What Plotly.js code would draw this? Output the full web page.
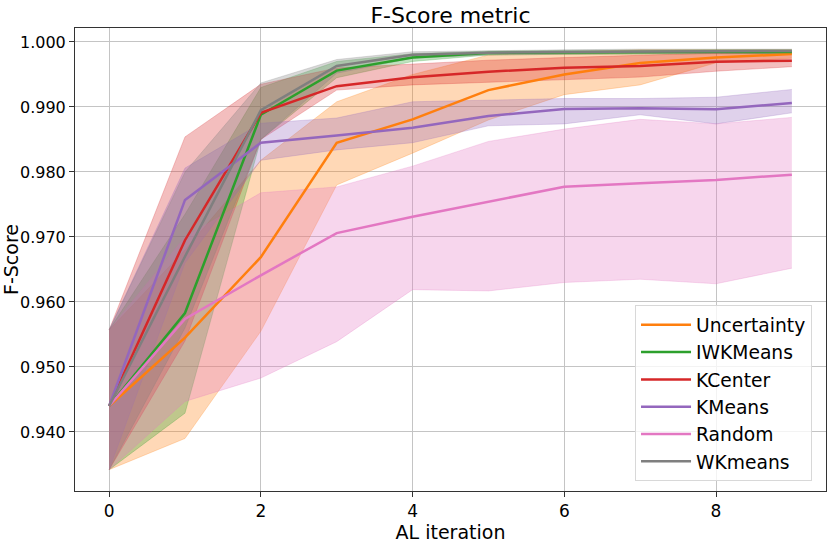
<!DOCTYPE html>
<html>
<head>
<meta charset="utf-8">
<script src="https://cdn.plot.ly/plotly-3.0.1.min.js"></script>
<style>html,body{margin:0;padding:0;background:#fff;}#chart{width:830px;height:543px;}</style>
</head>
<body>
<div id="chart"></div>
<script>
var iterations = [0, 1, 2, 3, 4, 5, 6, 7, 8, 9];

var uncertaintyMean  = [0.9440, 0.9545, 0.9669, 0.9845, 0.9881, 0.9926, 0.9950, 0.99675, 0.9976, 0.99815];
var uncertaintyUpper = [0.9557, 0.9680, 0.9818, 0.9908, 0.9950, 0.9980, 0.9985, 0.9988, 0.9988, 0.9988];
var uncertaintyLower = [0.9342, 0.9390, 0.9555, 0.9780, 0.9829, 0.9880, 0.9919, 0.9934, 0.9968, 0.9975];

var iwkmeansMean  = [0.9440, 0.9583, 0.9888, 0.9956, 0.9976, 0.9983, 0.9984, 0.9985, 0.9985, 0.99846];
var iwkmeansUpper = [0.9557, 0.9735, 0.9930, 0.9970, 0.9982, 0.9986, 0.9987, 0.9988, 0.9988, 0.9988];
var iwkmeansLower = [0.9342, 0.9429, 0.9850, 0.9945, 0.9970, 0.9980, 0.9981, 0.9982, 0.9982, 0.9982];

var kcenterMean  = [0.9440, 0.9695, 0.9891, 0.9932, 0.99457, 0.99543, 0.99605, 0.9963, 0.99697, 0.99713];
var kcenterUpper = [0.9557, 0.9854, 0.9935, 0.9960, 0.9966, 0.9972, 0.9976, 0.9980, 0.9983, 0.9984];
var kcenterLower = [0.9342, 0.9540, 0.9850, 0.9926, 0.9934, 0.9938, 0.9943, 0.9946, 0.9955, 0.9962];

var kmeansMean  = [0.9440, 0.9757, 0.9845, 0.9856, 0.98682, 0.98862, 0.98969, 0.9898, 0.98965, 0.99062];
var kmeansUpper = [0.9557, 0.9806, 0.9875, 0.9883, 0.9908, 0.9911, 0.9913, 0.9913, 0.9915, 0.9927];
var kmeansLower = [0.9342, 0.9660, 0.9818, 0.9834, 0.9845, 0.9871, 0.9874, 0.9888, 0.9874, 0.9891];

var randomMean  = [0.9440, 0.9574, 0.9641, 0.9706, 0.9731, 0.97543, 0.97774, 0.97826, 0.97877, 0.97959];
var randomUpper = [0.9557, 0.9700, 0.9768, 0.9777, 0.9809, 0.9847, 0.9866, 0.9881, 0.9874, 0.9884];
var randomLower = [0.9342, 0.9447, 0.9483, 0.9539, 0.9619, 0.9617, 0.9630, 0.9635, 0.9628, 0.9652];

var wkmeansMean  = [0.9440, 0.9670, 0.9895, 0.9963, 0.99805, 0.99836, 0.99846, 0.9985, 0.9986, 0.99862];
var wkmeansUpper = [0.9557, 0.9800, 0.9937, 0.9973, 0.9985, 0.9987, 0.9988, 0.9989, 0.9989, 0.9989];
var wkmeansLower = [0.9342, 0.9560, 0.9850, 0.9952, 0.9975, 0.9980, 0.9981, 0.9982, 0.9983, 0.9983];

var yTicks = [0.94, 0.95, 0.96, 0.97, 0.98, 0.99, 1.00];
var xTicks = [0, 2, 4, 6, 8];

var series = [
  {name: 'Uncertainty', mean: uncertaintyMean, upper: uncertaintyUpper, lower: uncertaintyLower, rgb: [255, 127, 14]},
  {name: 'IWKMeans', mean: iwkmeansMean, upper: iwkmeansUpper, lower: iwkmeansLower, rgb: [44, 160, 44]},
  {name: 'KCenter', mean: kcenterMean, upper: kcenterUpper, lower: kcenterLower, rgb: [214, 39, 40]},
  {name: 'KMeans', mean: kmeansMean, upper: kmeansUpper, lower: kmeansLower, rgb: [148, 103, 189]},
  {name: 'Random', mean: randomMean, upper: randomUpper, lower: randomLower, rgb: [227, 119, 194]},
  {name: 'WKmeans', mean: wkmeansMean, upper: wkmeansUpper, lower: wkmeansLower, rgb: [127, 127, 127]}
];

function rgba(c, a) { return 'rgba(' + c[0] + ',' + c[1] + ',' + c[2] + ',' + a + ')'; }

var traces = [];
series.forEach(function (s) {
  traces.push({
    x: iterations, y: s.lower, type: 'scatter', mode: 'lines',
    line: {width: 0.8, color: rgba(s.rgb, 0.3)}, showlegend: false, hoverinfo: 'skip'
  });
  traces.push({
    x: iterations, y: s.upper, type: 'scatter', mode: 'lines', fill: 'tonexty',
    fillcolor: rgba(s.rgb, 0.3),
    line: {width: 0.8, color: rgba(s.rgb, 0.3)}, showlegend: false, hoverinfo: 'skip'
  });
});
series.forEach(function (s) {
  traces.push({
    x: iterations, y: s.mean, type: 'scatter', mode: 'lines', name: s.name,
    line: {width: 2.5, color: rgba(s.rgb, 1)}
  });
});

var layout = {
  width: 830, height: 543,
  paper_bgcolor: '#ffffff', plot_bgcolor: '#ffffff',
  margin: {l: 75, r: 4, t: 28, b: 52},
  font: {family: 'DejaVu Sans, sans-serif', size: 17, color: '#000'},
  title: {text: 'F-Score metric', font: {size: 22, color: '#000'}, xref: 'paper', x: 0.5, xanchor: 'center', yref: 'container', y: 0.972, yanchor: 'middle'},
  xaxis: {
    range: [-0.45, 9.45], tickvals: xTicks, ticktext: xTicks.map(String),
    showgrid: true, gridcolor: '#c4c4c4', gridwidth: 1,
    zeroline: false, showline: true, linecolor: '#333', linewidth: 1, mirror: true,
    ticks: 'outside', ticklen: 5, tickcolor: '#333',
    tickfont: {size: 17},
    title: {text: 'AL iteration', font: {size: 19}, standoff: 3}
  },
  yaxis: {
    range: [0.93092, 1.00215], tickvals: yTicks, ticktext: yTicks.map(function (v) { return v.toFixed(3); }),
    showgrid: true, gridcolor: '#c4c4c4', gridwidth: 1,
    zeroline: false, showline: true, linecolor: '#333', linewidth: 1, mirror: true,
    ticks: 'outside', ticklen: 5, tickcolor: '#333',
    tickfont: {size: 16},
    title: {text: 'F-Score', font: {size: 19}, standoff: 7}
  },
  legend: {
    x: 0.7457, y: 0.4015, xanchor: 'left', yanchor: 'top',
    traceorder: 'normal', itemwidth: 50,
    bgcolor: 'rgba(255,255,255,0.8)', bordercolor: '#d8d8d8', borderwidth: 1,
    font: {size: 18.7}, tracegroupgap: 0
  },
  showlegend: true
};

Plotly.newPlot('chart', traces, layout, {displayModeBar: false, staticPlot: true});
</script>
</body>
</html>
